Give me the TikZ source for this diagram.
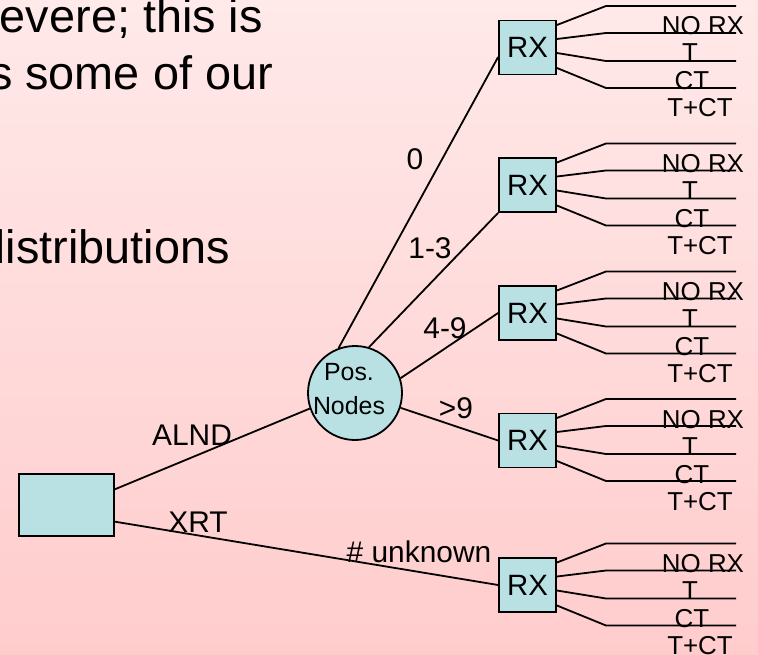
\documentclass[tikz,border=0pt]{standalone}
\usepackage{fontspec}
\setmainfont{Liberation Sans}
\usetikzlibrary{calc}

\definecolor{bgtop}{RGB}{255,233,233}
\definecolor{bgbot}{RGB}{255,204,204}
\definecolor{boxfill}{RGB}{185,225,228}

\begin{document}
\begin{tikzpicture}[x=1bp,y=-1bp,
  link/.style={line width=1.8bp, draw=black},
  rxbox/.style={draw=black, line width=1.8bp, fill=boxfill, minimum width=57bp,
    minimum height=54bp, inner sep=0pt, font=\fontsize{29.5}{29.5}\selectfont},
  rootbox/.style={draw=black, line width=1.8bp, fill=boxfill, minimum width=95bp,
    minimum height=62bp, inner sep=0pt},
  chance/.style={circle, draw=black, line width=1.8bp, fill=boxfill,
    minimum size=94bp, inner sep=0pt},
  edgelabel/.style={anchor=base, inner sep=0pt, font=\fontsize{30}{36}\selectfont},
  leaflabel/.style={anchor=base, inner sep=0pt, font=\fontsize{26}{30}\selectfont},
  slidetext/.style={anchor=base east, inner sep=0pt, font=\fontsize{47}{56}\selectfont}
]
% page and background
\useasboundingbox (0,0) rectangle (758,655);
\clip (0,0) rectangle (758,655);
\shade[top color=bgtop, bottom color=bgbot] (0,0) rectangle (758,655);

% slide text behind the tree
\node[slidetext] (t1) at (263,33) {evere; this is};
\node[slidetext] (t2) at (273,90) {s some of our};
\node[slidetext] (t3) at (230,263) {distributions};

% decision and chance nodes
\node[rootbox] (root) at (66.5,505) {};
\node[chance] (pos) at (355,393) {};
\node[inner sep=0pt, align=center, font=\fontsize{25}{35}\selectfont] (postext) at (349,389) {Pos.\\Nodes};

\node[rxbox] (rx1) at (527.5,47.5) {RX};
\node[rxbox] (rx2) at (527.5,185) {RX};
\node[rxbox] (rx3) at (527.5,313) {RX};
\node[rxbox] (rx4) at (527.5,440.5) {RX};
\node[rxbox] (rx5) at (527.5,585) {RX};

% first-level branches
\draw[link] (root.18) -- (pos.199);
\draw[link] (root.-19) -- (rx5.west);
\node[edgelabel] (lalnd) at (192,445) {ALND};
\node[edgelabel] (lxrt) at (198,532) {XRT};
\node[edgelabel] (lunk) at (419,562) {\# unknown};

% branches out of the chance node
\draw[link] (pos.110) -- (rx1.198);
\draw[link] (pos.73) -- (rx2.south west);
\draw[link] (pos.18) -- (rx3.west);
\draw[link] (pos.-18) -- (rx4.west);
\node[edgelabel] (l0) at (415,169) {0};
\node[edgelabel] (l13) at (430,258) {1-3};
\node[edgelabel] (l49) at (445,338) {4-9};
\node[edgelabel] (l9) at (456,418) {>9};

% treatment branches on every RX node
\foreach \b/\c in {rx1/47.5, rx2/185, rx3/313, rx4/440.5, rx5/585} {
  \foreach \i/\s/\e/\lab/\lx in {1/-22.5/-41.5/NO RX/703, 2/-8.5/-14.5/T/690,
                                 3/5.5/13.5/CT/692, 4/20.5/40.5/T+CT/700} {
    \coordinate (\b-j\i) at (606,\c+\e);
    \coordinate (\b-e\i) at (736,\c+\e);
    \draw[link] ($(\b.east)+(0,\s)$) -- (\b-j\i) -- (\b-e\i);
    \node[leaflabel] (\b-l\i) at (\lx,\c+\e+29) {\lab};
  }
}
\end{tikzpicture}
\end{document}
